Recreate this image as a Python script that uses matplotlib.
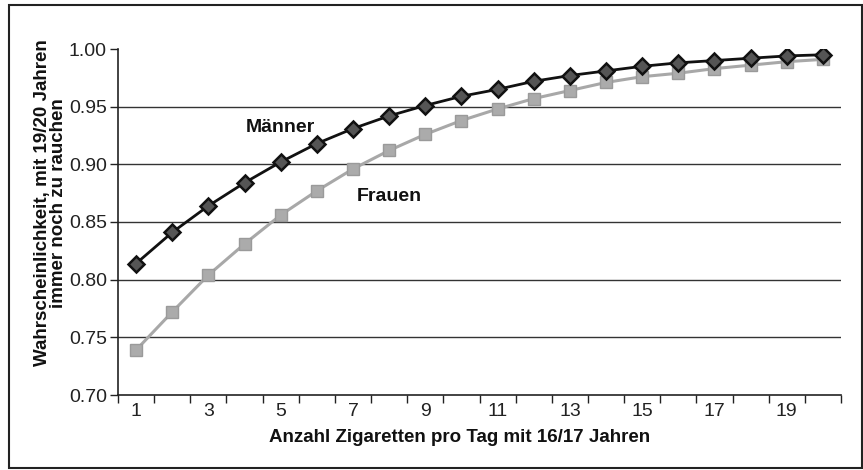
import matplotlib
matplotlib.use("Agg")
import matplotlib.pyplot as plt
from matplotlib.patches import Rectangle
import numpy as np

plt.rcParams['font.family'] = ['Liberation Sans', 'DejaVu Sans']

zigaretten = list(range(1, 21))
maenner = [0.814, 0.841, 0.864, 0.884, 0.902, 0.918, 0.931, 0.942, 0.951, 0.959,
           0.965, 0.972, 0.977, 0.981, 0.985, 0.988, 0.990, 0.992, 0.994, 0.995]
frauen = [0.739, 0.772, 0.804, 0.831, 0.856, 0.877, 0.896, 0.912, 0.926, 0.938,
          0.948, 0.957, 0.964, 0.971, 0.976, 0.979, 0.983, 0.986, 0.989, 0.991]
xtick_labels = [1, 3, 5, 7, 9, 11, 13, 15, 17, 19]
yticks = [0.70, 0.75, 0.80, 0.85, 0.90, 0.95, 1.00]

fig = plt.figure(figsize=(8.63, 4.70), dpi=100)
ax = fig.add_axes([118/863, 75/470, (841-118)/863, (395-49)/470])

# outer frame
fig.patches.append(Rectangle((8.5/863, 2/470), 853/863, 463/470, transform=fig.transFigure,
                             fill=False, edgecolor='#222222', linewidth=1.5))

for y in yticks[1:-1]:
    ax.axhline(y, color='#333333', linewidth=1.0, zorder=1)

ax.plot(zigaretten, frauen, color='#a8a8a8', linewidth=2.2, marker='s', markersize=9,
        markerfacecolor='#ababab', markeredgecolor='#9a9a9a', zorder=3)
ax.plot(zigaretten, maenner, color='#111111', linewidth=2.0, marker='D', markersize=8.5,
        markerfacecolor='#555555', markeredgecolor='#111111', markeredgewidth=1.8, zorder=4)

ax.set_xlim(0.5, 20.5)
ax.set_ylim(0.70, 1.00)
ax.set_xticks(np.arange(0.5, 21, 1.0))
ax.set_xticklabels([])
ax.set_xticks(xtick_labels, minor=True)
ax.set_xticklabels([str(v) for v in xtick_labels], minor=True)
ax.tick_params(axis='x', which='major', length=6, width=1, direction='out', color='#222222')
ax.tick_params(axis='x', which='minor', length=0, labelsize=14, pad=6, labelcolor='#222222')
ax.set_yticks(yticks)
ax.set_yticklabels([f"{v:.2f}" for v in yticks])
ax.tick_params(axis='y', length=6, width=1, direction='out', labelsize=14, pad=2, color='#222222',
               labelcolor='#222222')

for s in ['top', 'right']:
    ax.spines[s].set_visible(False)
for s in ['left', 'bottom']:
    ax.spines[s].set_color('#222222')
    ax.spines[s].set_linewidth(1.2)

ax.set_xlabel("Anzahl Zigaretten pro Tag mit 16/17 Jahren", fontsize=13.5, fontweight='bold',
              color='#111111')
ax.xaxis.set_label_coords(0.473, -0.098)
ax.set_ylabel("Wahrscheinlichkeit, mit 19/20 Jahren\nimmer noch zu rauchen", fontsize=13.5,
              fontweight='bold', color='#111111', linespacing=0.95)
ax.yaxis.set_label_coords(-0.070, 0.555)

ax.text(5.95, 0.932, "Männer", fontsize=14, fontweight='bold', color='#111111', ha='right', va='center')
ax.text(7.1, 0.872, "Frauen", fontsize=14, fontweight='bold', color='#111111', ha='left', va='center')

fig.savefig("out.png", dpi=100)
